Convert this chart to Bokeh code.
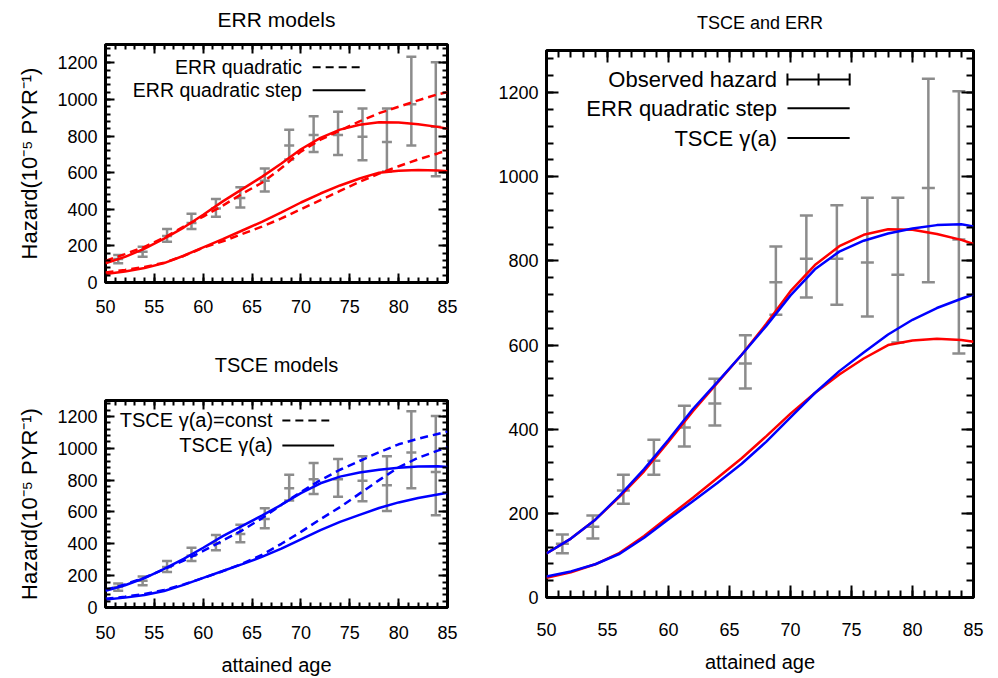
import math
from bokeh.plotting import figure
from bokeh.layouts import row, column
from bokeh.models import LinearAxis, SingleIntervalTicker, Range1d
from bokeh.core.properties import value
from bokeh.embed import file_html
from bokeh.resources import INLINE

# ---------------- data ----------------
obs_age = [51.3, 53.8, 56.3, 58.8, 61.3, 63.8, 66.3, 68.8, 71.3, 73.8, 76.3, 78.8, 81.3, 83.8]
obs_haz = [128, 168, 254, 325, 404, 461, 556, 749, 805, 805, 796, 767, 973, 851]
obs_lo = [105, 140, 223, 292, 359, 409, 497, 672, 713, 696, 668, 606, 749, 580]
obs_hi = [150, 195, 292, 375, 456, 520, 623, 834, 908, 932, 950, 950, 1233, 1203]

model_age = [50, 52, 54, 56, 58, 60, 62, 64, 66, 68, 70, 72, 74, 76, 78, 80, 82, 84, 85]
err_step_hi = [105, 140, 185, 240, 300, 370, 443, 510, 577, 650, 728, 790, 835, 862, 875, 874, 864, 850, 840]
err_step_lo = [47, 60, 79, 106, 146, 192, 237, 284, 331, 383, 437, 486, 530, 568, 600, 611, 615, 612, 608]
err_quad_hi = [118, 155, 195, 245, 305, 360, 420, 485, 545, 625, 715, 780, 830, 880, 925, 960, 995, 1028, 1040]
err_quad_lo = [55, 68, 85, 108, 145, 190, 225, 265, 305, 350, 400, 450, 500, 550, 595, 635, 672, 705, 722]
tsce_hi = [105, 140, 185, 242, 305, 375, 448, 512, 577, 645, 718, 780, 822, 848, 865, 877, 885, 887, 882]
tsce_lo = [50, 62, 79, 104, 142, 186, 229, 272, 318, 370, 428, 486, 538, 582, 625, 660, 688, 710, 720]
tsce_const_hi = [110, 145, 188, 240, 295, 355, 420, 485, 560, 645, 725, 800, 865, 920, 975, 1025, 1060, 1090, 1105]
tsce_const_lo = [55, 68, 85, 110, 145, 185, 228, 275, 330, 400, 475, 555, 630, 715, 800, 880, 940, 985, 1005]

x_ticks_step = 5
y_ticks_step = 200

FONT = "Liberation Sans"
RED = "#ff0000"
BLUE = "#0000ff"
GRAY = "#8c8c8c"
YLABEL = "Hazard(10\u207b\u2075 PYR\u207b\u00b9)"


def make_fig(w, h, bl, br, bt, bb, title, title_size, title_standoff, ylabel, xlabel,
             tick_font, maj_in, min_in, x_standoff):
    p = figure(width=w, height=h, x_range=Range1d(50, 85), y_range=Range1d(0, 1300),
               output_backend="svg", toolbar_location=None, title=None,
               min_border_left=bl, min_border_right=br, min_border_top=bt, min_border_bottom=bb)
    p.grid.visible = False
    p.outline_line_color = "black"
    p.outline_line_width = 3
    p.outline_line_alpha = 1
    p.background_fill_color = "white"
    p.border_fill_color = "white"
    xt = SingleIntervalTicker(interval=x_ticks_step, num_minor_ticks=5)
    yt = SingleIntervalTicker(interval=y_ticks_step, num_minor_ticks=5)
    p.xaxis.ticker = xt
    p.yaxis.ticker = yt
    p.add_layout(LinearAxis(ticker=xt), "above")
    p.add_layout(LinearAxis(ticker=yt), "right")
    for ax in p.axis:
        ax.axis_line_color = None
        ax.major_tick_in = maj_in
        ax.major_tick_out = 0
        ax.minor_tick_in = min_in
        ax.minor_tick_out = 0
        ax.major_tick_line_width = 2
        ax.minor_tick_line_width = 2
        ax.major_tick_line_color = "black"
        ax.minor_tick_line_color = "black"
        ax.major_label_text_font = FONT
        ax.major_label_text_font_size = tick_font
        ax.major_label_text_color = "black"
        ax.axis_label_text_font = FONT
        ax.axis_label_text_font_style = "normal"
        ax.axis_label_text_color = "black"
    for ax in p.above + p.right:
        ax.major_label_text_font_size = "1px"
        ax.major_label_text_color = None
        ax.major_label_text_alpha = 0
        ax.major_label_standoff = 0
    # the plot title is the label of the mirrored top axis
    top = p.above[0]
    top.axis_label = title
    top.axis_label_text_font_size = title_size
    top.axis_label_standoff = title_standoff
    p.below[0].major_label_standoff = x_standoff
    p.left[0].major_label_standoff = 8
    if ylabel:
        p.left[0].axis_label = ylabel
        p.left[0].axis_label_text_font_size = "22px"
        p.left[0].axis_label_standoff = 12
    if xlabel:
        p.below[0].axis_label = xlabel
        p.below[0].axis_label_text_font_size = "20px"
        p.below[0].axis_label_standoff = 12
    return p


def add_obs(p, cap):
    p.segment(x0=obs_age, y0=obs_lo, x1=obs_age, y1=obs_hi, line_color=GRAY, line_width=2.5)
    p.dash(x=obs_age, y=obs_lo, size=cap, line_color=GRAY, line_width=2.5)
    p.dash(x=obs_age, y=obs_hi, size=cap, line_color=GRAY, line_width=2.5)
    p.dash(x=obs_age, y=obs_haz, size=cap, line_color=GRAY, line_width=2.5)


def legend_text(p, x, ys, labels, size):
    p.text(x=[x] * len(ys), y=ys, text=labels, text_align="right", text_baseline="middle",
           text_font=value(FONT), text_font_size=value(size), text_color="black")


DASH = "8 5"

# ---------- top-left: ERR models ----------
p1 = make_fig(470, 330, 105, 23, 44, 48, "ERR models", "21px", 14, YLABEL, None, "18px", 9, 5, 17)
add_obs(p1, 10)
for ys in (err_quad_hi, err_quad_lo):
    p1.line(model_age, ys, line_color=RED, line_width=2.5, line_dash=DASH)
for ys in (err_step_hi, err_step_lo):
    p1.line(model_age, ys, line_color=RED, line_width=2.5)
legend_text(p1, 70.1, [1176, 1050], ["ERR quadratic", "ERR quadratic step"], "19.5px")
p1.line([71.2, 76.1], [1176, 1176], line_color="black", line_width=2, line_dash=DASH)
p1.line([71.2, 76.6], [1050, 1050], line_color="black", line_width=2)

# ---------- bottom-left: TSCE models ----------
p2 = make_fig(470, 348, 105, 23, 70, 71, "TSCE models", "20px", 25, YLABEL, "attained age", "18px", 9, 5, 18)
add_obs(p2, 10)
for ys in (tsce_const_hi, tsce_const_lo):
    p2.line(model_age, ys, line_color=BLUE, line_width=2.5, line_dash=DASH)
for ys in (tsce_hi, tsce_lo):
    p2.line(model_age, ys, line_color=BLUE, line_width=2.5)
legend_text(p2, 67.1, [1175, 1018], ["TSCE \u03b3(a)=const", "TSCE \u03b3(a)"], "20px")
p2.line([68.1, 72.9], [1175, 1175], line_color="black", line_width=2, line_dash=DASH)
p2.line([68.1, 73.4], [1018, 1018], line_color="black", line_width=2)

# ---------- right: TSCE and ERR ----------
p3 = make_fig(528, 678, 76, 25, 50, 81, "TSCE and ERR", "18px", 18, None, "attained age", "18px", 12, 7, 25)
add_obs(p3, 13)
for ys in (err_step_hi, err_step_lo):
    p3.line(model_age, ys, line_color=RED, line_width=2.5)
for ys in (tsce_hi, tsce_lo):
    p3.line(model_age, ys, line_color=BLUE, line_width=2.5)
legend_text(p3, 68.9, [1231, 1163, 1092],
            ["Observed hazard", "ERR quadratic step", "TSCE \u03b3(a)"], "22px")
p3.line([69.75, 74.85], [1231, 1231], line_color="black", line_width=2)
p3.dash(x=[69.75, 72.3, 74.85], y=[1231] * 3, size=12, angle=math.pi / 2,
        line_color="black", line_width=2)
p3.line([69.75, 74.85], [1163, 1163], line_color="black", line_width=2)
p3.line([69.75, 74.85], [1092, 1092], line_color="black", line_width=2)

layout = row(column(p1, p2), p3)
open("out.html", "w").write(file_html(layout, INLINE))
